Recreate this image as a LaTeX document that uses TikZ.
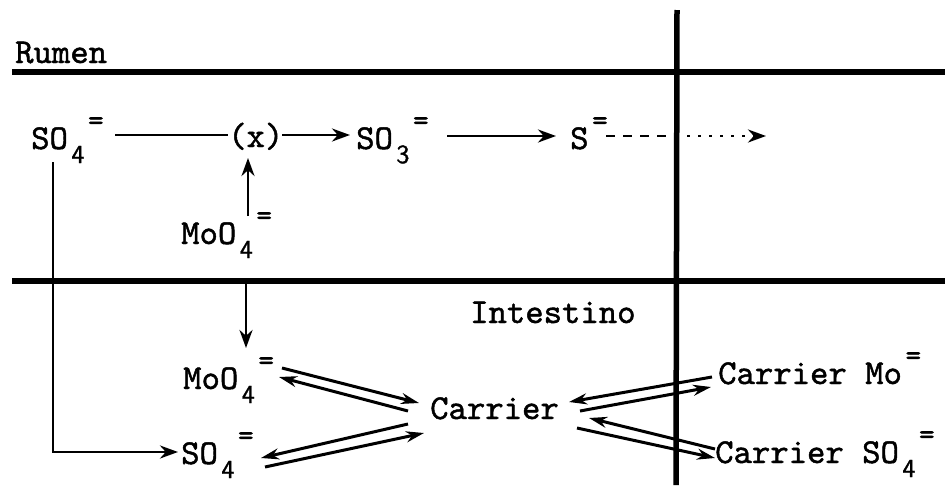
\documentclass[tikz,border=0pt]{standalone}
\usepackage{fontspec}
\usetikzlibrary{arrows.meta}
\newfontfamily\twfont[FakeBold=1.3]{lmmono10-regular.otf}
\newfontfamily\twsub[FakeBold=1.3]{lmsans10-regular.otf}
\newcommand{\ionsub}[1]{\hspace{0.1em}\raisebox{-0.4em}{\twsub\fontsize{26}{26}\selectfont #1}}
\newcommand{\ionchg}{\hspace{0.1em}\raisebox{0.55em}{\fontsize{30}{30}\selectfont =}}
\begin{document}
\begin{tikzpicture}[x=1pt,y=-1pt,
  lbl/.style={anchor=base west,inner sep=0pt,font=\twfont\fontsize{35}{40}\selectfont},
  sep/.style={line width=5.5pt},
  arr/.style={line width=2.8pt,-{Stealth[length=18pt,width=13pt]}},
  plain/.style={line width=2.8pt},
  eqa/.style={line width=3pt,-{Stealth[length=18pt,width=11pt]}}]
\useasboundingbox (0,0) rectangle (945,485);
% separators
\coordinate (h1w) at (12,72);  \coordinate (h1e) at (945,72);
\coordinate (h2w) at (12,281); \coordinate (h2e) at (945,281);
\coordinate (vt) at (677,10);  \coordinate (vb) at (676,485);
\draw[sep] (h1w) -- (h1e);
\draw[sep] (h2w) -- (h2e);
\draw[sep] (vt) -- (vb);
% labels
\node[lbl] (rumen) at (15,63) {Rumen};
\node[lbl] (so4a) at (31,149) {SO\ionsub{4}\ionchg};
\node[lbl] (x) at (228,147) {(x)};
\node[lbl] (so3) at (356,149) {SO\ionsub{3}\ionchg};
\node[lbl] (s) at (570,149) {S\ionchg};
\node[lbl] (moo4a) at (181,244) {MoO\ionsub{4}\ionchg};
\node[lbl] (intest) at (470,323) {Intestino};
\node[lbl] (moo4b) at (183,389) {MoO\ionsub{4}\ionchg};
\node[lbl] (carrier) at (430,419) {Carrier};
\node[lbl] (so4b) at (181,464) {SO\ionsub{4}\ionchg};
\node[lbl] (cmo) at (718,384) {Carrier Mo\ionchg};
\node[lbl] (cso4) at (715,463) {Carrier SO\ionsub{4}\ionchg};
% rumen connectors
\coordinate (p1) at (115,135); \coordinate (p2) at (228,135);
\draw[plain] (p1) -- (p2);
\coordinate (p3) at (282,135); \coordinate (p4) at (350,135);
\draw[arr] (p3) -- (p4);
\coordinate (p5) at (447,136); \coordinate (p6) at (556,136);
\draw[arr] (p5) -- (p6);
\coordinate (p7) at (606,136); \coordinate (p8) at (676,136); \coordinate (p9) at (766,136);
\draw[plain,dash pattern=on 9pt off 8pt] (p7) -- (p8);
\draw[plain,dash pattern=on 3pt off 8pt,-{Stealth[length=18pt,width=13pt]}] (p8) -- (p9);
\coordinate (m1) at (248,216); \coordinate (m2) at (248,158);
\draw[arr] (m1) -- (m2);
\coordinate (q1) at (53,162); \coordinate (q2) at (53,452); \coordinate (q3) at (178,452);
\draw[arr] (q1) -- (q2) -- (q3);
% intestine connectors
\coordinate (d1) at (246,283); \coordinate (d2) at (246,348);
\draw[arr] (d1) -- (d2);
\coordinate (e1) at (282,368); \coordinate (e2) at (419,403);
\draw[eqa] (e1) -- (e2);
\coordinate (e3) at (408,411); \coordinate (e4) at (279,377);
\draw[eqa] (e3) -- (e4);
\coordinate (f1) at (408,424); \coordinate (f2) at (261,458);
\draw[eqa] (f1) -- (f2);
\coordinate (f3) at (265,467); \coordinate (f4) at (424,433);
\draw[eqa] (f3) -- (f4);
\coordinate (g1) at (712,377); \coordinate (g2) at (569,402);
\draw[eqa] (g1) -- (g2);
\coordinate (g3) at (580,411); \coordinate (g4) at (711,387);
\draw[eqa] (g3) -- (g4);
\coordinate (k1) at (715,449); \coordinate (k2) at (589,418);
\draw[eqa] (k1) -- (k2);
\coordinate (k3) at (577,428); \coordinate (k4) at (715,458);
\draw[eqa] (k3) -- (k4);
\end{tikzpicture}
\end{document}
